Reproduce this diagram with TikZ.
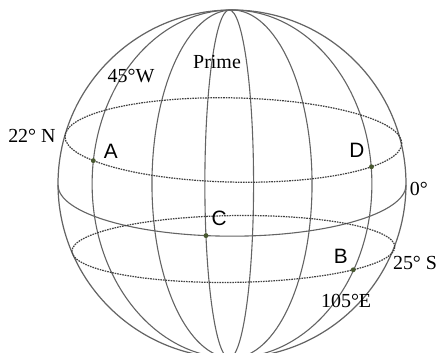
\documentclass[tikz,border=0pt]{standalone}
\usepackage{fontspec}
\setmainfont{Liberation Serif}
\newfontfamily\ptfont{Liberation Sans}
\usetikzlibrary{positioning}
\definecolor{GridGray}{RGB}{100,100,100}
\definecolor{DotGreen}{RGB}{72,88,48}
\tikzset{
	meridian/.style={GridGray, line width=0.9pt},
	parallel/.style={black!75, line width=1pt, dash pattern=on 1.3pt off 0.8pt},
	geolabel/.style={font=\fontsize{16.3}{18}\selectfont, inner sep=0pt},
	ptlabel/.style={font=\ptfont\fontsize{17}{19}\selectfont, inner sep=0pt}
}

\begin{document}
\begin{tikzpicture}
			\useasboundingbox (-6.667,-4.856) rectangle (6.006,5.287);
			\clip (-6.667,-4.856) rectangle (6.006,5.287);
			% globe and meridians
			\draw[meridian, line width=1pt] (0,0) circle (5);
			\foreach \rx in {2.3,4.02}
				\draw[meridian] (0,0) ellipse ({\rx} and 5);
			\draw[meridian] (-0.08,0) ellipse (0.7 and 5);
			% equator, front half only
			\begin{scope}[shift={(0,-0.03)}]
				\draw[meridian] (180:5 and 1.47) arc (180:360:5 and 1.47);
				\coordinate (C) at (261.4:5 and 1.47);
			\end{scope}
			% 22 N
			\begin{scope}[shift={(0.04,1.264)}, rotate=-1.2]
				\draw[parallel] (0,0) ellipse (4.84 and 1.21);
				\coordinate (A) at (214:4.84 and 1.21);
				\coordinate (D) at (325.4:4.84 and 1.21);
			\end{scope}
			% 25 S
			\begin{scope}[shift={(0.04,-1.868)}, rotate=0.8]
				\draw[parallel] (0,0) ellipse (4.64 and 0.96);
				\coordinate (B) at (317.8:4.64 and 0.96);
			\end{scope}
			\fill[DotGreen] (A) circle (0.07);
			\fill[DotGreen] (B) circle (0.07);
			\fill[DotGreen] (C) circle (0.07);
			\fill[DotGreen] (D) circle (0.07);
			\node[ptlabel] (labA) at (-3.48,0.95) {A};
			\node[ptlabel] (labB) at (3.13,-2.07) {B};
			\node[ptlabel] (labC) at (-0.37,-0.98) {C};
			\node[ptlabel] (labD) at (3.59,0.98) {D};
			\node[geolabel] (prime) at (-0.43,3.506) {Prime};
			\node[geolabel] (lon45) at (-2.90,3.10) {45°W};
			\node[geolabel] (lat22) at (-5.75,1.38) {22° N};
			\node[geolabel] (lat0) at (5.37,-0.14) {0°};
			\node[geolabel] (lat25) at (5.26,-2.27) {25° S};
			\node[geolabel] (lon105) at (3.28,-3.36) {105°E};
		\end{tikzpicture}
\end{document}
